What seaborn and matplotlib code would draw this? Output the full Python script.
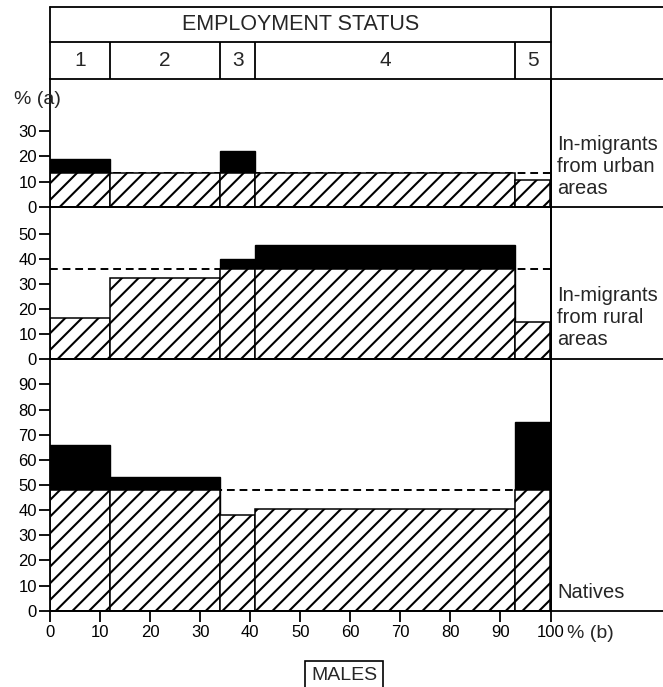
import numpy as np
import pandas as pd
import matplotlib
matplotlib.use("Agg")
import matplotlib.pyplot as plt
import seaborn as sns
from matplotlib.lines import Line2D

# Employment status groups and their share of all males (bar widths, %)
status_labels = ["1", "2", "3", "4", "5"]
status_share = [12, 22, 7, 52, 7]

# Share of each status group coming from each origin (bar heights, %)
urban = [19, 13.5, 22, 13.5, 10.6]
rural = [16.5, 32.5, 40, 45.5, 15]
natives = [66, 53, 38, 40.5, 75]

# Overall share of each origin among all males (dashed reference level)
urban_mean = 13.5
rural_mean = 35.8
natives_mean = 48

panel_names = ["In-migrants\nfrom urban\nareas", "In-migrants\nfrom rural\nareas", "Natives"]
y_ticks = [[0, 10, 20, 30], [0, 10, 20, 30, 40, 50], list(range(0, 100, 10))]
x_ticks = list(range(0, 101, 10))

sns.set_style("white")
plt.rcParams["font.family"] = ["Liberation Sans", "DejaVu Sans"]
plt.rcParams["hatch.linewidth"] = 1.5

W, H = 663, 687
fig = plt.figure(figsize=(W / 100, H / 100), dpi=100)


def fx(px):
    return px / W


def fy(py):
    return 1 - py / H


edges = [0.0] + [float(v) for v in np.cumsum(status_share)]
mids = [(a + b) / 2 for a, b in zip(edges[:-1], edges[1:])]

X_LEFT, X_RIGHT = 50.0, 550.5
# pixel rows: header top, header split, header bottom, panel zero lines
Y_TOP, Y_SPLIT, Y_HEAD = 7.0, 41.5, 78.5
zero_rows = [206.7, 359.3, 610.7]
panel_tops = [Y_HEAD, 206.7, 359.3]
px_per_unit = 2.514

LW = 1.3

panels = [(urban, urban_mean), (rural, rural_mean), (natives, natives_mean)]
axes = []
for i, ((vals, mean), top, bottom) in enumerate(zip(panels, panel_tops, zero_rows)):
    ax = fig.add_axes([fx(X_LEFT), fy(bottom), fx(X_RIGHT - X_LEFT), (bottom - top) / H])
    vals = np.asarray(vals, dtype=float)
    df = pd.DataFrame({
        "mid": mids,
        "excess": np.where(vals > mean, vals, 0.0),
        "base": np.minimum(vals, mean),
    })
    ax.axhline(mean, color="black", lw=1.4, ls=(0, (4, 2.5)), zorder=0.5)
    sns.histplot(data=df, x="mid", weights="excess", bins=edges, stat="count",
                 color="black", edgecolor="black", linewidth=1.0, alpha=1, ax=ax, zorder=1)
    sns.histplot(data=df, x="mid", weights="base", bins=edges, stat="count",
                 color="white", edgecolor="black", linewidth=1.1, alpha=1, hatch="//",
                 ax=ax, zorder=2)
    ax.set_xlim(0, 100)
    ax.set_ylim(0, (bottom - top) / px_per_unit)
    ax.set_xlabel("")
    ax.set_ylabel("")
    ax.set_yticks(y_ticks[i])
    ax.tick_params(axis="y", direction="out", length=8, width=LW, labelsize=12,
                   pad=1.5, left=True, colors="black")
    if i == 2:
        ax.set_xticks(x_ticks)
        ax.tick_params(axis="x", direction="out", length=8, width=LW, labelsize=12,
                       pad=2, bottom=True, colors="black")
    else:
        ax.set_xticks([])
    ax.spines["top"].set_visible(False)
    for side in ["left", "right", "bottom"]:
        ax.spines[side].set_linewidth(LW)
        ax.spines[side].set_color("black")
    ax.patch.set_alpha(0)
    axes.append(ax)

# Header with the employment status groups
hax = fig.add_axes([fx(X_LEFT), fy(Y_HEAD), fx(X_RIGHT - X_LEFT), (Y_HEAD - Y_TOP) / H])
hax.set_xlim(0, 100)
hax.set_ylim(0, 1)
hax.axis("off")
split = (Y_HEAD - Y_SPLIT) / (Y_HEAD - Y_TOP)
hax.vlines(edges[1:-1], 0, split, color="black", lw=LW)
hax.text(50, (1 + split) / 2, "EMPLOYMENT STATUS", ha="center", va="center", fontsize=15.5)
for m, lab in zip(mids, status_labels):
    hax.text(m, split / 2, lab, ha="center", va="center", fontsize=15)

# Frame lines running across the header and the label column
frame = [
    ((X_LEFT, W), (Y_TOP, Y_TOP)),
    ((X_LEFT, X_RIGHT), (Y_SPLIT, Y_SPLIT)),
    ((X_LEFT, W), (Y_HEAD, Y_HEAD)),
    ((X_LEFT, X_LEFT), (Y_TOP, Y_HEAD)),
    ((X_RIGHT, X_RIGHT), (Y_TOP, zero_rows[-1])),
] + [((X_LEFT, W), (r, r)) for r in zero_rows]
for (x0, x1), (y0, y1) in frame:
    fig.add_artist(Line2D([fx(x0), fx(x1)], [fy(y0), fy(y1)], color="black", lw=LW))

# Panel names in the right-hand column
name_rows = [166.5, 317.5, 593]
for name, row in zip(panel_names, name_rows):
    fig.text(fx(557), fy(row), name, ha="left", va="center", fontsize=14.5, linespacing=1.2)

fig.text(fx(14), fy(100), "% (a)", ha="left", va="center", fontsize=14)
fig.text(fx(567), fy(633), "% (b)", ha="left", va="center", fontsize=14)
fig.text(fx(344), fy(675), "MALES", ha="center", va="center", fontsize=14,
         bbox=dict(boxstyle="square,pad=0.3", facecolor="white", edgecolor="black", lw=1.2))

fig.savefig("out.png", dpi=100)
